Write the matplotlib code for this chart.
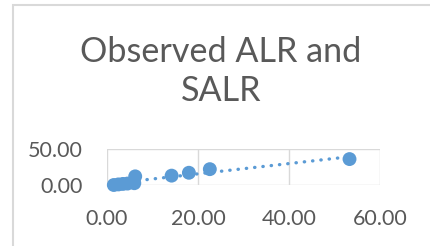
import matplotlib
matplotlib.use("Agg")
import matplotlib.pyplot as plt
import numpy as np
from matplotlib.patches import Rectangle
from matplotlib.ticker import FormatStrFormatter

# Data
x_obs = [1.5, 2.5, 3.5, 4.5, 6.0, 6.2, 14.2, 18.0, 22.6, 53.3]
y_obs = [0.0, 0.8, 1.5, 2.0, 2.5, 12.0, 13.0, 17.0, 22.0, 36.0]
x_ticks = [0, 20, 40, 60]
y_ticks = [0, 50]
title = "Observed ALR and\nSALR"

blue = "#5b9bd5"
grid = "#d9d9d9"
text = "#595959"
font = "Lato"

fig = plt.figure(figsize=(4.3, 2.46), dpi=100)
fig.patch.set_facecolor("white")

# chart border (cut off at right and bottom)
fig.patches.append(Rectangle((12.5 / 430, -0.2), 2, (246 - 4.5) / 246 + 0.2,
                             transform=fig.transFigure, fill=False,
                             edgecolor=grid, linewidth=1.5))

ax = fig.add_axes([107 / 430, (246 - 185) / 246, 273 / 430, 36 / 246])
ax.set_xlim(0, 60)
ax.set_ylim(0, 50)
ax.set_xticks(x_ticks)
ax.set_yticks(y_ticks)
ax.xaxis.set_major_formatter(FormatStrFormatter("%.2f"))
ax.yaxis.set_major_formatter(FormatStrFormatter("%.2f"))
ax.grid(True, color=grid, linewidth=1.0)
ax.set_axisbelow(True)
for s in ax.spines.values():
    s.set_visible(False)
ax.tick_params(axis="x", length=0, pad=17, labelsize=15.5, labelcolor=text)
ax.tick_params(axis="y", length=0, pad=17.5, labelsize=15.5, labelcolor=text)
for lab in ax.get_xticklabels() + ax.get_yticklabels():
    lab.set_fontfamily(font)

# trendline (linear fit)
coef = np.polyfit(x_obs, y_obs, 1)
xt = np.array([min(x_obs), max(x_obs)])
ax.plot(xt, np.polyval(coef, xt), color=blue, linewidth=2.4,
        linestyle=(0, (0.1, 2.4)), dash_capstyle="round", clip_on=False, zorder=2)

ax.scatter(x_obs, y_obs, s=100, color=blue, edgecolors="none", clip_on=False, zorder=3)

fig.text(221 / 430, 1 - 71.5 / 246, title, ha="center", va="center",
         fontsize=24.6, color=text, family=font, linespacing=1.25)

fig.savefig("out.png", dpi=100)
